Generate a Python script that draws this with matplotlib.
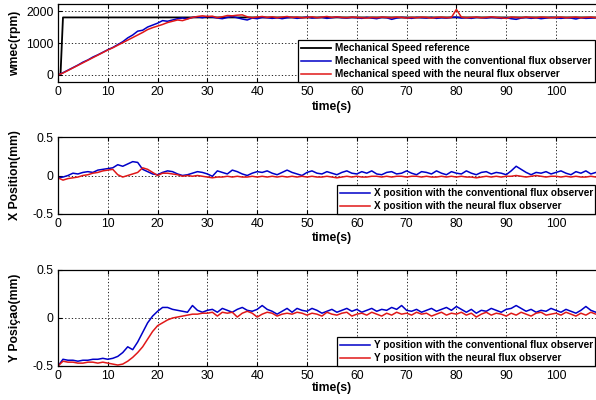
import numpy as np
import matplotlib
matplotlib.use("Agg")
import matplotlib.pyplot as plt

plt.rcParams['font.family'] = ['Liberation Sans', 'DejaVu Sans']

# ---------------- data (sampled every 1 s, 0..110 s) ----------------
t = list(range(0, 111))

ref_t = [0, 0.5, 1.0, 110]
ref_speed = [0, 0, 1800, 1800]

speed_conv = [
    0, 70, 150, 230, 310, 400, 470, 560, 630, 710,
    790, 860, 950, 1040, 1160, 1250, 1370, 1400, 1500, 1560,
    1620, 1700, 1680, 1720, 1760, 1780, 1760, 1800, 1820, 1790,
    1830, 1810, 1780, 1760, 1800, 1830, 1790, 1750, 1720, 1780,
    1760, 1800, 1790, 1770, 1790, 1760, 1790, 1800, 1770, 1790,
    1810, 1780, 1790, 1800, 1770, 1790, 1810, 1790, 1780, 1800,
    1790, 1770, 1800, 1780, 1760, 1800, 1790, 1740, 1780, 1800,
    1790, 1770, 1800, 1790, 1780, 1800, 1770, 1790, 1780, 1800,
    1810, 1780, 1790, 1770, 1800, 1790, 1780, 1800, 1790, 1770,
    1790, 1760, 1740, 1780, 1800, 1770, 1790, 1760, 1780, 1800,
    1790, 1770, 1790, 1780, 1750, 1790, 1770, 1780, 1790, 1780, 1790]

speed_neural = [
    0, 60, 140, 220, 300, 380, 460, 540, 620, 700,
    780, 850, 930, 1010, 1090, 1170, 1250, 1330, 1420, 1480,
    1530, 1580, 1640, 1680, 1720, 1700, 1750, 1800, 1830, 1850,
    1830, 1840, 1790, 1820, 1860, 1850, 1870, 1880, 1820, 1790,
    1810, 1830, 1800, 1820, 1790, 1810, 1830, 1800, 1810, 1790,
    1800, 1820, 1790, 1810, 1830, 1800, 1820, 1800, 1790, 1810,
    1800, 1790, 1780, 1800, 1790, 1810, 1800, 1790, 1810, 1800,
    1780, 1800, 1790, 1810, 1800, 1780, 1800, 1810, 1790, 1800,
    2050, 1810, 1790, 1800, 1810, 1790, 1800, 1820, 1800, 1790,
    1770, 1810, 1800, 1790, 1810, 1800, 1790, 1810, 1800, 1790,
    1800, 1810, 1790, 1800, 1810, 1790, 1800, 1810, 1790, 1800, 1810]

x_conv = [
    -0.03, -0.02, 0.00, 0.03, 0.02, 0.04, 0.05, 0.04, 0.07, 0.08,
    0.09, 0.10, 0.14, 0.12, 0.15, 0.18, 0.17, 0.08, 0.05, 0.02,
    0.01, 0.04, 0.06, 0.05, 0.02, 0.00, 0.01, 0.03, 0.05, 0.04,
    0.02, -0.01, 0.06, 0.04, 0.02, 0.07, 0.05, 0.02, 0.00, 0.03,
    0.05, 0.04, 0.06, 0.03, 0.01, 0.04, 0.07, 0.04, 0.02, 0.00,
    0.04, 0.06, 0.03, 0.02, 0.05, 0.03, 0.01, 0.04, 0.06, 0.03,
    0.02, 0.05, 0.03, 0.06, 0.02, 0.01, 0.04, 0.05, 0.02, 0.03,
    0.06, 0.03, 0.01, 0.05, 0.04, 0.02, 0.06, 0.03, 0.01, 0.05,
    0.03, 0.02, 0.06, 0.03, 0.01, 0.04, 0.05, 0.02, 0.04, 0.03,
    0.01, 0.06, 0.12, 0.08, 0.04, 0.01, 0.04, 0.03, 0.05, 0.02,
    0.04, 0.06, 0.03, 0.01, 0.05, 0.03, 0.06, 0.02, 0.04, 0.03, 0.05]

x_neural = [
    -0.03, -0.06, -0.04, -0.03, -0.02, 0.00, 0.01, 0.03, 0.04, 0.06,
    0.07, 0.08, 0.01, -0.02, 0.00, 0.02, 0.04, 0.10, 0.08, 0.04,
    0.00, 0.03, 0.03, 0.02, 0.01, -0.01, 0.00, -0.01, 0.00, -0.01,
    -0.02, -0.03, -0.02, -0.02, -0.01, -0.02, -0.01, -0.02, -0.02, -0.01,
    -0.02, -0.01, -0.02, -0.01, -0.02, -0.01, -0.02, -0.01, -0.02, -0.01,
    -0.02, -0.01, -0.02, -0.02, -0.01, -0.02, -0.03, -0.02, -0.01, -0.02,
    -0.01, -0.02, -0.02, -0.01, -0.01, -0.02, -0.01, -0.02, -0.01, -0.01,
    -0.02, -0.01, -0.01, -0.02, -0.01, -0.02, -0.02, -0.01, -0.02, -0.01,
    -0.02, -0.01, -0.02, -0.02, -0.03, -0.02, -0.01, -0.02, -0.01, -0.02,
    -0.01, -0.01, 0.00, -0.01, -0.02, -0.01, 0.00, -0.01, -0.02, -0.01,
    -0.01, -0.02, -0.01, -0.02, -0.01, -0.02, -0.02, -0.01, -0.02, -0.01, -0.02]

y_conv = [
    -0.50, -0.43, -0.44, -0.44, -0.45, -0.44, -0.44, -0.43, -0.43, -0.42,
    -0.43, -0.42, -0.40, -0.36, -0.30, -0.33, -0.25, -0.15, -0.05, 0.02,
    0.07, 0.11, 0.11, 0.09, 0.08, 0.07, 0.06, 0.13, 0.08, 0.06,
    0.08, 0.09, 0.06, 0.10, 0.08, 0.06, 0.09, 0.11, 0.08, 0.07,
    0.09, 0.13, 0.09, 0.07, 0.04, 0.07, 0.10, 0.06, 0.10, 0.08,
    0.07, 0.10, 0.08, 0.05, 0.07, 0.09, 0.06, 0.08, 0.10, 0.07,
    0.09, 0.06, 0.08, 0.10, 0.07, 0.09, 0.08, 0.11, 0.09, 0.13,
    0.08, 0.07, 0.09, 0.06, 0.08, 0.10, 0.07, 0.09, 0.11, 0.08,
    0.12, 0.09, 0.06, 0.09, 0.05, 0.08, 0.07, 0.10, 0.08, 0.06,
    0.09, 0.10, 0.13, 0.10, 0.07, 0.09, 0.06, 0.08, 0.07, 0.10,
    0.08, 0.06, 0.09, 0.07, 0.05, 0.08, 0.12, 0.08, 0.06, 0.09, 0.07]

y_neural = [
    -0.50, -0.45, -0.46, -0.46, -0.47, -0.47, -0.46, -0.46, -0.47, -0.46,
    -0.47, -0.48, -0.49, -0.48, -0.45, -0.41, -0.36, -0.30, -0.22, -0.14,
    -0.08, -0.05, -0.02, 0.00, 0.01, 0.02, 0.03, 0.04, 0.04, 0.05,
    0.05, 0.06, 0.02, 0.06, 0.05, 0.06, 0.01, 0.05, 0.07, 0.05,
    0.01, 0.04, 0.06, 0.05, 0.02, 0.04, 0.05, 0.04, 0.06, 0.05,
    0.03, 0.05, 0.04, 0.02, 0.06, 0.04, 0.03, 0.05, 0.06, 0.02,
    0.04, 0.05, 0.03, 0.06, 0.04, 0.02, 0.05, 0.03, 0.06, 0.04,
    0.05, 0.03, 0.06, 0.04, 0.05, 0.02, 0.04, 0.06, 0.03, 0.05,
    0.04, 0.06, 0.03, 0.05, 0.01, 0.04, 0.06, 0.03, 0.05, 0.04,
    0.02, 0.05, 0.03, 0.06, 0.04, 0.02, 0.05, 0.06, 0.03, 0.04,
    0.05, 0.03, 0.06, 0.04, 0.02, 0.05, 0.03, 0.06, 0.04, 0.05, 0.03]

xticks = [0, 10, 20, 30, 40, 50, 60, 70, 80, 90, 100]

# ---------------- figure ----------------
W, H = 596, 400
fig = plt.figure(figsize=(W / 100, H / 100), dpi=100)

X0 = 58
PXU = 4.98
XMAX = 110
axw = XMAX * PXU


def make_ax(top, bottom):
    return fig.add_axes([X0 / W, 1 - bottom / H, axw / W, (bottom - top) / H])


ax1 = make_ax(4, 82)
ax2 = make_ax(137, 214)
ax3 = make_ax(270, 366)

BLUE = '#0000c8'
RED = '#e01818'
LW = 1.1

ax1.plot(ref_t, ref_speed, color='black', lw=1.3, label='Mechanical Speed reference')
ax1.plot(t, speed_conv, color=BLUE, lw=LW, label='Mechanical speed with the conventional flux observer')
ax1.plot(t, speed_neural, color=RED, lw=LW, label='Mechanical speed with the neural flux observer')
ax1.set_ylim(-220, 2220)
ax1.set_yticks([0, 1000, 2000])
ax1.set_ylabel('wmec(rpm)')

ax2.plot(t, x_conv, color=BLUE, lw=LW, label='X position with the conventional flux observer')
ax2.plot(t, x_neural, color=RED, lw=LW, label='X position with the neural flux observer')
ax2.set_ylim(-0.5, 0.5)
ax2.set_yticks([-0.5, 0, 0.5])
ax2.set_yticklabels(['-0.5', '0', '0.5'])
ax2.set_ylabel('X Position(mm)')

ax3.plot(t, y_conv, color=BLUE, lw=LW, label='Y position with the conventional flux observer')
ax3.plot(t, y_neural, color=RED, lw=LW, label='Y position with the neural flux observer')
ax3.set_ylim(-0.5, 0.5)
ax3.set_yticks([-0.5, 0, 0.5])
ax3.set_yticklabels(['-0.5', '0', '0.5'])
ax3.set_ylabel('Y Posiçao(mm)')

label_centers = [(107, 82, 4), (238, 214, 137), (388, 366, 270)]
for ax, (ly, bot, top) in zip([ax1, ax2, ax3], label_centers):
    ax.set_xlim(0, XMAX)
    ax.set_xticks(xticks)
    ax.grid(True, color='black', linestyle=(0, (1.5, 2.5)), lw=0.6)
    ax.tick_params(direction='in', top=True, right=True, labelsize=8.8, length=3, pad=3)
    for s in ax.spines.values():
        s.set_linewidth(0.9)
    ax.set_xlabel('time(s)', fontsize=8.8, fontweight='bold')
    h = bot - top
    ax.xaxis.set_label_coords((332 - X0) / axw, -(ly - 6 - bot) / h)
    ax.yaxis.label.set_fontsize(8.8)
    ax.yaxis.label.set_fontweight('bold')
    ax.yaxis.set_label_coords((21 - X0) / axw, 0.5)

leg_specs = [(ax1, 298, 7.2, 'bold'), (ax2, 337, 7.2, 'bold'), (ax3, 337, 7.2, 'bold')]
for ax, lx, fs, fw in leg_specs:
    x0 = (lx - X0) / axw
    x1 = (595 - X0) / axw
    leg = ax.legend(loc='lower left', bbox_to_anchor=(x0, 0, x1 - x0, 0.5), mode='expand',
                    borderaxespad=0, fancybox=False, framealpha=1, edgecolor='black',
                    prop={'size': fs, 'weight': fw}, handlelength=3.0, handletextpad=0.4,
                    borderpad=0.3, labelspacing=0.3)
    leg.get_frame().set_linewidth(0.9)

fig.savefig('out.png', dpi=100)
